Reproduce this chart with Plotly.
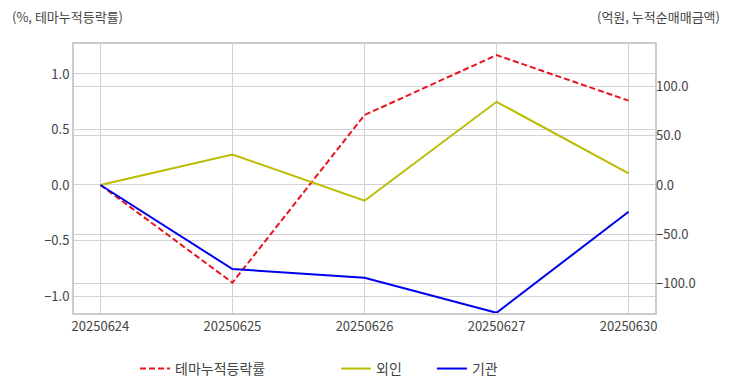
import plotly.graph_objects as go

dates = ["20250624", "20250625", "20250626", "20250627", "20250630"]
theme_rate = [0.0, -0.88, 0.63, 1.17, 0.76]
foreign = [0.0, 31.0, -16.0, 84.6, 11.9]
institution = [0.0, -85.5, -94.4, -130.0, -27.2]

FONT = "Noto Sans CJK KR"
GRID = "#d2d2d2"
TXT = "#444444"

fig = go.Figure()
fig.add_trace(go.Scatter(x=dates, y=theme_rate, name="테마누적등락률", mode="lines",
                         line=dict(color="#e8141e", width=2, dash="6px,3px"), yaxis="y", legend="legend"))
fig.add_trace(go.Scatter(x=dates, y=foreign, name="외인", mode="lines",
                         line=dict(color="#bbbb00", width=2), yaxis="y2", legend="legend2"))
fig.add_trace(go.Scatter(x=dates, y=institution, name="기관", mode="lines",
                         line=dict(color="#0000ee", width=2), yaxis="y2", legend="legend3"))

leg = dict(orientation="h", y=-0.208, yanchor="middle", xanchor="left",
           font=dict(size=14, color=TXT), bgcolor="rgba(0,0,0,0)")

fig.update_layout(
    width=732, height=392,
    margin=dict(l=74, r=77, t=44, b=79, autoexpand=False),
    paper_bgcolor="white", plot_bgcolor="white",
    font=dict(family=FONT, size=12, color=TXT),
    xaxis=dict(type="category", range=[-0.2, 4.2], showgrid=True, gridcolor=GRID, gridwidth=1,
               showline=True, linecolor="#cccccc", linewidth=2, mirror=True, ticks="",
               zeroline=False, automargin=False, tickfont=dict(size=13, color=TXT)),
    yaxis=dict(range=[-1.153, 1.27], tickvals=[-1.0, -0.5, 0.0, 0.5, 1.0], tickformat=".1f",
               showgrid=True, gridcolor=GRID, zeroline=False, showline=True, linecolor="#cccccc",
               linewidth=2, mirror=True, ticks="", automargin=False, tickfont=dict(size=13, color=TXT)),
    yaxis2=dict(range=[-130.2, 143.4], tickvals=[-100, -50, 0, 50, 100], tickformat=".1f",
                overlaying="y", side="right", showgrid=True, gridcolor=GRID, gridwidth=1, zeroline=False,
                showline=False, ticks="", automargin=False, tickfont=dict(size=13, color=TXT)),
    legend=dict(leg, x=0.105),
    legend2=dict(leg, x=0.451),
    legend3=dict(leg, x=0.616),
    annotations=[
        dict(text="(%, 테마누적등락률)", xref="paper", yref="paper", x=-0.11, y=1.0,
             xanchor="left", yanchor="bottom", yshift=16, showarrow=False,
             font=dict(size=13, color=TXT)),
        dict(text="(억원, 누적순매매금액)", xref="paper", yref="paper", x=1.115, y=1.0,
             xanchor="right", yanchor="bottom", yshift=16, showarrow=False,
             font=dict(size=13, color=TXT)),
    ],
    showlegend=True,
)

fig.write_html("out.html", config={"displayModeBar": False},
               post_script="document.body.style.margin='0px';")
